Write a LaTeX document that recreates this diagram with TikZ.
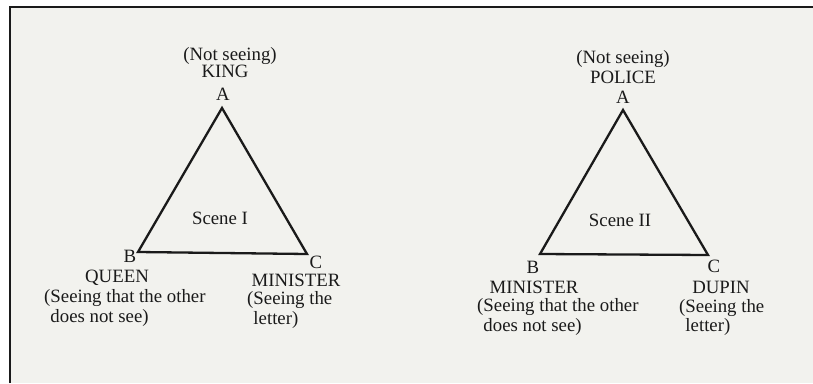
\documentclass[tikz,border=0pt]{standalone}
\usepackage{fontspec}
\setmainfont{Liberation Serif}
\usetikzlibrary{positioning}
\definecolor{paper}{HTML}{F2F2EE}
\definecolor{ink}{HTML}{1A1A1A}

\begin{document}
\begin{tikzpicture}[
  x=1pt, y=-1pt,
  every node/.style={font=\fontsize{18.8}{19.7}\selectfont, text=ink, inner sep=0pt},
  lbl/.style={anchor=base},
  desc/.style={anchor=base west, align=left},
  side/.style={draw=ink, line width=2.3pt, line join=miter}
]
\useasboundingbox (0,0) rectangle (813,383);
\fill[white] (0,0) rectangle (813,383);
\fill[paper] (9.5,6.5) rectangle (813,383);
\draw[ink, line width=2pt] (9.5,383) -- (9.5,6.5) -- (813,6.5);

% scene I
\coordinate (s1a) at (222,108);
\coordinate (s1b) at (138,252);
\coordinate (s1c) at (307,254);
\draw[side] (s1a) -- (s1b) -- (s1c) -- cycle;
\node[lbl] (s1title) at (220,224) {Scene I};
\node[lbl] (s1not) at (230,60) {(Not seeing)};
\node[lbl] (s1king) at (225,77) {KING};
\node[lbl] (s1A) at (223,100) {A};
\node[lbl] (s1B) at (130,262) {B};
\node[lbl] (s1C) at (316,268) {C};
\node[lbl] (s1queen) at (117,282) {QUEEN};
\node[desc] (s1qdesc) at (44,322.5) {(Seeing that the other\\\hphantom{(}does not see)};
\node[lbl] (s1min) at (296,286) {MINISTER};
\node[desc] (s1mdesc) at (247,324) {(Seeing the\\\hphantom{(}letter)};

% scene II
\coordinate (s2a) at (623,110);
\coordinate (s2b) at (540,254);
\coordinate (s2c) at (708,255);
\draw[side] (s2a) -- (s2b) -- (s2c) -- cycle;
\node[lbl] (s2title) at (620,226) {Scene II};
\node[lbl] (s2not) at (623,63) {(Not seeing)};
\node[lbl] (s2police) at (623,83) {POLICE};
\node[lbl] (s2A) at (623,103) {A};
\node[lbl] (s2B) at (533,273) {B};
\node[lbl] (s2C) at (714,272) {C};
\node[lbl] (s2min) at (534,293) {MINISTER};
\node[desc] (s2mdesc) at (477,331.5) {(Seeing that the other\\\hphantom{(}does not see)};
\node[lbl] (s2dupin) at (721,293) {DUPIN};
\node[desc] (s2ddesc) at (679,331.7) {(Seeing the\\\hphantom{(}letter)};
\end{tikzpicture}
\end{document}
